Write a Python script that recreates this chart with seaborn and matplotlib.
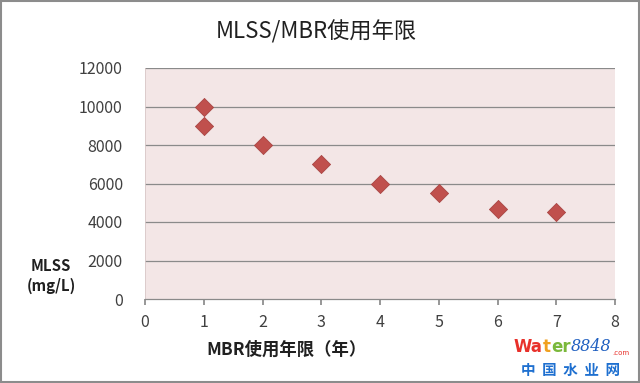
import numpy as np
import pandas as pd
import matplotlib
matplotlib.use("Agg")
import matplotlib.pyplot as plt
import seaborn as sns

years = [1, 1, 2, 3, 4, 5, 6, 7]
mlss = [10000, 9000, 8000, 7000, 6000, 5500, 4700, 4500]
xticks = [0, 1, 2, 3, 4, 5, 6, 7, 8]
yticks = [0, 2000, 4000, 6000, 8000, 10000, 12000]

sns.set_theme(style="white")
plt.rcParams['font.family'] = ['Noto Sans CJK SC', 'DejaVu Sans']

df = pd.DataFrame({"year": years, "mlss": mlss})

W, H = 640, 383
fig = plt.figure(figsize=(6.4, 3.83), dpi=100)
fig.patch.set_facecolor("white")
ax = fig.add_axes([145 / W, 1 - 299 / H, (615 - 145) / W, (299 - 68) / H])
ax.set_facecolor("#F3E6E6")

for y in yticks[1:]:
    ax.axhline(y, color="#8A8A8A", lw=0.9, zorder=1)

sns.scatterplot(data=df, x="year", y="mlss", marker="D", s=85, color="#C0504D",
                edgecolor="#A94543", linewidth=0.6, ax=ax, zorder=3)

ax.set_xlim(0, 8)
ax.set_ylim(0, 12000)
ax.set_xticks(xticks)
ax.set_yticks(yticks)
ax.set_xticklabels([str(v) for v in xticks], fontsize=11.5, color="#404040")
ax.set_yticklabels([str(v) for v in yticks], fontsize=11.5, color="#404040")
ax.tick_params(axis="x", bottom=True, length=4, color="#8A8A8A", pad=7)
ax.tick_params(axis="y", left=False, pad=10)
for s in ["top", "right"]:
    ax.spines[s].set_visible(False)
ax.spines["left"].set_color("#D8C8C8")
ax.spines["left"].set_linewidth(0.6)
ax.spines["bottom"].set_color("#8A8A8A")
ax.spines["bottom"].set_linewidth(0.9)
ax.set_xlabel("")
ax.set_ylabel("")

fig.text(0.495, 1 - 32 / H, "MLSS/MBR使用年限", ha="center", va="center", fontsize=16, color="#202020")
fig.text(287 / W, 1 - 350 / H, "MBR使用年限（年）", ha="center", va="center", fontsize=12.5,
         fontweight="bold", color="#202020")
fig.text(51 / W, 1 - 276 / H, "MLSS\n(mg/L)", ha="center", va="center", fontsize=10.8,
         fontweight="bold", color="#202020", linespacing=1.35)

# watermark, laid out piece by piece
renderer = fig.canvas.get_renderer()
parts = [("Wa", "#E8302A", 12, "DejaVu Sans", "bold", "normal", 0),
         ("t", "#F0A020", 12, "DejaVu Sans", "bold", "normal", 0),
         ("er", "#7AB83A", 12, "DejaVu Sans", "bold", "normal", 0),
         ("8848", "#1F5FC0", 11.5, "DejaVu Serif", "normal", "italic", 1),
         (".com", "#E8302A", 5, "DejaVu Sans", "normal", "normal", -3)]
xpix = 513
for txt, col, fs, fam, fw, st, dy in parts:
    t = fig.text(xpix / W, (H - 352 + dy) / H, txt, ha="left", va="baseline", fontsize=fs,
                 color=col, family=fam, fontweight=fw, style=st)
    bb = t.get_window_extent(renderer=renderer)
    xpix = bb.x1 + 0.5
fig.text(571 / W, 1 - 370 / H, "中  国  水  业  网", ha="center", va="center", fontsize=10.5,
         fontweight="bold", color="#1F70D0")

# figure border
fig.add_artist(plt.Rectangle((0.002, 0.003), 0.996, 0.994, transform=fig.transFigure,
                             fill=False, edgecolor="#8C8C8C", lw=1.5))

fig.savefig("out.png", dpi=100)
